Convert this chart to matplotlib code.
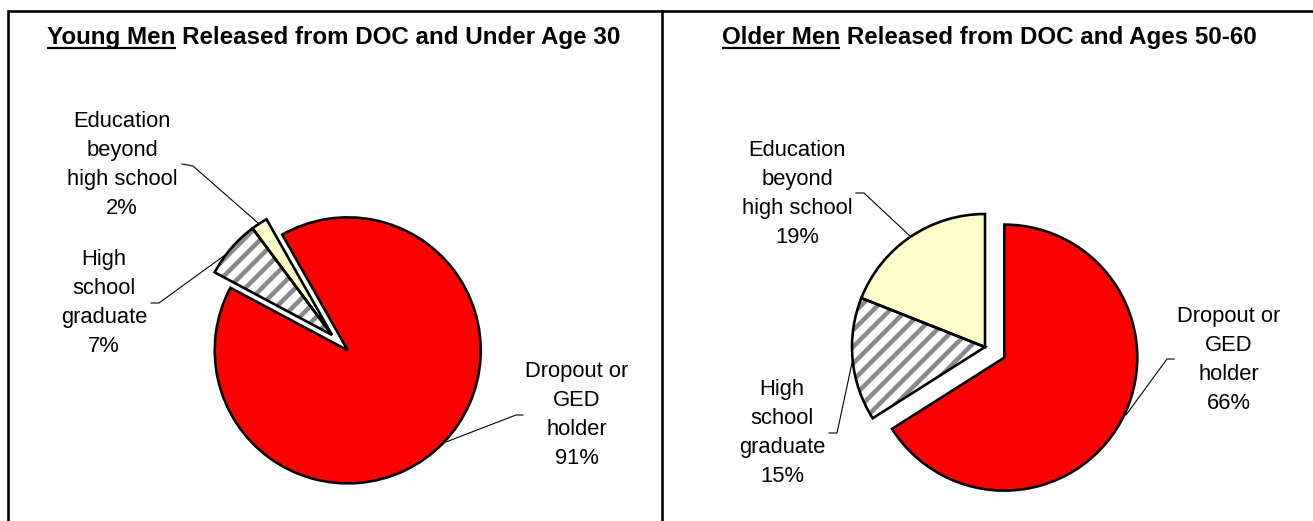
import numpy as np
import matplotlib.pyplot as plt

DPI = 100
W, H = 1313, 521


def pt(px):
    # pixel size -> points at this dpi
    return px * 72.0 / DPI


categories = ["Dropout or\nGED\nholder", "High\nschool\ngraduate", "Education\nbeyond\nhigh school"]
young_pct = [91, 7, 2]
older_pct = [66, 15, 19]
slice_colors = ["#ff0000", "#ffffff", "#ffffcc"]

title_bold = ["Young Men", "Older Men"]
title_rest = [" Released from DOC and Under Age 30", " Released from DOC and Ages 50-60"]

plt.rcParams['font.family'] = ['Liberation Sans', 'DejaVu Sans']
plt.rcParams['hatch.linewidth'] = pt(4.5)

fig = plt.figure(figsize=(W / DPI, H / DPI), dpi=DPI)
ax = fig.add_axes([0, 0, 1, 1])

# layout of the two panels (image pixel coords, y from top)
panels = [
    dict(vals=young_pct, center=(332, 335), start=119.5, title_x=334,
         label_xy=[(577, 415), (104, 303), (122, 165)],
         leaders=[[(523, 415), (516, 415), (446, 442)],
                  [(151, 303), (159, 303), (225, 255)],
                  [(182, 164), (193, 166), (258, 223)]]),
    dict(vals=older_pct, center=(985, 347), start=90, title_x=989,
         label_xy=[(1229, 360), (782, 433), (797, 194)],
         leaders=[[(1174, 359), (1167, 359), (1126, 415)],
                  [(829, 433), (837, 433), (852, 363)],
                  [(856, 193), (864, 193), (910, 236)]]),
]

R = 133
explode = [22, 0, 0]  # pie() offsets in data units (= pixels here)

for i, p in enumerate(panels):
    cx, cy = p["center"]
    # filled wedges (edge colour drives the hatch colour)
    wedges, _ = ax.pie(p["vals"], explode=explode, startangle=p["start"],
                       counterclock=False, colors=slice_colors,
                       center=(cx, H - cy), radius=R,
                       wedgeprops=dict(linewidth=0))
    wedges[1].set_hatch("//")
    wedges[1].set_edgecolor("#8a8a8a")
    wedges[1].set_linewidth(0)
    # black outlines on top
    ax.pie(p["vals"], explode=explode, startangle=p["start"],
           counterclock=False, center=(cx, H - cy), radius=R,
           wedgeprops=dict(fill=False, edgecolor="black", linewidth=pt(2.6)))

    for j, lab in enumerate(categories):
        lx, ly = p["label_xy"][j]
        ax.text(lx, H - ly, "%s\n%d%%" % (lab, p["vals"][j]), ha="center", va="center",
                multialignment="center", fontsize=pt(22), linespacing=1.48)
        pts = p["leaders"][j]
        ax.plot([q[0] for q in pts], [H - q[1] for q in pts], color="black", lw=pt(1.1))

# panel frames
ax.plot([7.5, 7.5, W + 5], [-5, H - 10.5, H - 10.5], color="black", lw=pt(2.6),
        solid_joinstyle="miter")
ax.plot([661.5, 661.5], [-5, H - 10.5], color="black", lw=pt(2.6))

ax.set_xlim(0, W)
ax.set_ylim(0, H)
ax.set_aspect("auto")
ax.axis("off")

# titles with underlined first words
title_texts = []
for i, p in enumerate(panels):
    t = ax.text(p["title_x"], H - 44, title_bold[i] + title_rest[i], ha="center",
                va="baseline", fontsize=pt(24.1), fontweight="bold")
    title_texts.append(t)

fig.canvas.draw()
r = fig.canvas.get_renderer()
for i, t in enumerate(title_texts):
    bb = t.get_window_extent(r)
    tmp = ax.text(0, 0, title_bold[i], fontsize=pt(24.1), fontweight="bold")
    w = tmp.get_window_extent(r).width
    tmp.remove()
    ax.plot([bb.x0, bb.x0 + w], [H - 48, H - 48], color="black", lw=pt(2.2),
            solid_capstyle="butt")

fig.savefig("out.png", dpi=DPI)
